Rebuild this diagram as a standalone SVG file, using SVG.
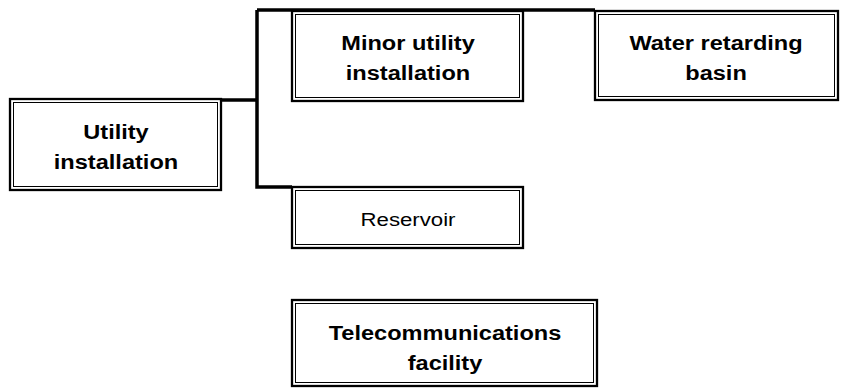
<svg xmlns="http://www.w3.org/2000/svg" width="853" height="389" viewBox="0 0 853 389">
<style>
.o{fill:#fff;stroke:#000;stroke-width:2.3}
.i{fill:none;stroke:#000;stroke-width:1}
.t{font-family:"Liberation Sans",Arial,sans-serif;font-size:20.5px;text-anchor:middle;fill:#000}
.b{font-weight:bold}
.r{font-size:19px}
.c{fill:none;stroke:#000;stroke-width:3.5}
</style>
<rect width="853" height="389" fill="#fff"/>
<g id="connectors">
<path class="c" d="M221 100H257M257 10V187H292M257 10H595"/>
</g>
<g id="utility">
<rect class="o" x="10" y="99" width="211" height="91"/>
<rect class="i" x="13.5" y="102.5" width="204" height="84"/>
<text class="t b" transform="translate(116 139) scale(1.15 1)">Utility</text>
<text class="t b" transform="translate(116 169) scale(1.15 1)">installation</text>
</g>
<g id="minor">
<rect class="o" x="292" y="11" width="231" height="90"/>
<rect class="i" x="295.5" y="14.5" width="224" height="83"/>
<text class="t b" transform="translate(408 50) scale(1.15 1)">Minor utility</text>
<text class="t b" transform="translate(408 80) scale(1.15 1)">installation</text>
</g>
<g id="water">
<rect class="o" x="595" y="11" width="243" height="89"/>
<rect class="i" x="598.5" y="14.5" width="236" height="82"/>
<text class="t b" transform="translate(716 50) scale(1.15 1)">Water retarding</text>
<text class="t b" transform="translate(716 80) scale(1.15 1)">basin</text>
</g>
<g id="reservoir">
<rect class="o" x="292" y="187" width="231" height="61"/>
<rect class="i" x="295.5" y="190.5" width="224" height="54"/>
<text class="t r" transform="translate(408 226) scale(1.17 1)">Reservoir</text>
</g>
<g id="telecom">
<rect class="o" x="292" y="300" width="305" height="86"/>
<rect class="i" x="295.5" y="303.5" width="298" height="79"/>
<text class="t b" transform="translate(445 339.5) scale(1.15 1)">Telecommunications</text>
<text class="t b" transform="translate(445 369.5) scale(1.15 1)">facility</text>
</g>
</svg>
